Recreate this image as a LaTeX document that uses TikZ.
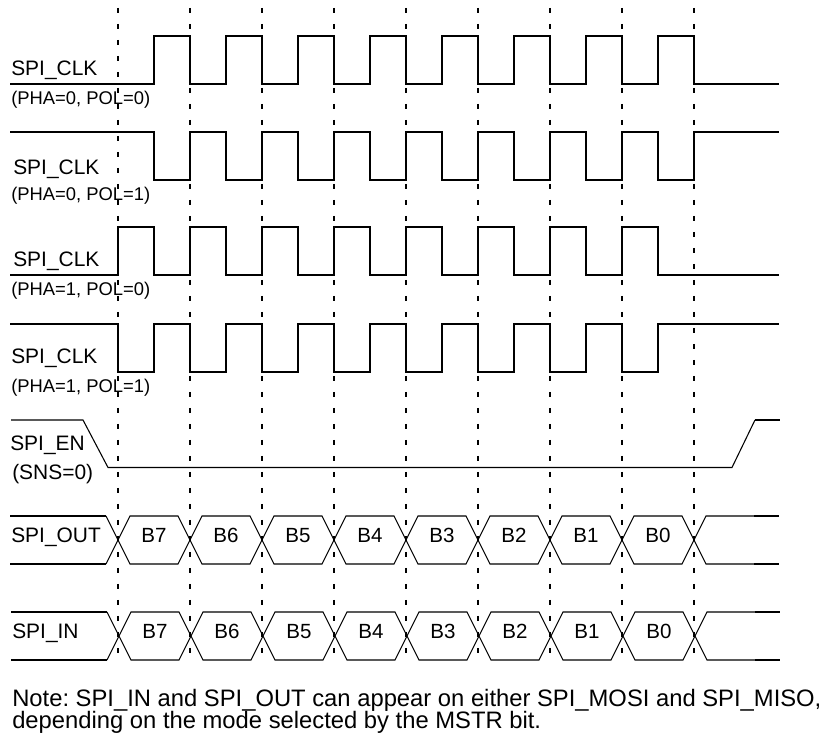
\documentclass[tikz,border=0pt]{standalone}
\usepackage{fontspec}
\setmainfont{Liberation Sans}

\begin{document}
\begin{tikzpicture}[x=0.75pt,y=-0.75pt,
  grid/.style={line width=1.5pt,dash pattern=on 3.4pt off 8.6pt},
  clk/.style={line width=1.3pt},
  wave/.style={line width=0.8pt},
  lead/.style={line width=1.3pt},
  big/.style={anchor=base west,inner sep=0pt,font=\fontsize{15.7pt}{18pt}\selectfont},
  small/.style={anchor=base west,inner sep=0pt,font=\fontsize{13.8pt}{16pt}\selectfont},
  bit/.style={anchor=base,inner sep=0pt,font=\fontsize{15.4pt}{18pt}\selectfont},
  note/.style={anchor=base west,inner sep=0pt,font=\frenchspacing\fontsize{17.84pt}{20pt}\selectfont}]
\path (0,0) rectangle (826,737);
\node[big] (clka) at (11,76) {SPI\_CLK};
\node[small] (moda) at (11,105) {(PHA=0, POL=0)};
\node[big] (clkb) at (13,175) {SPI\_CLK};
\node[small] (modb) at (11,201) {(PHA=0, POL=1)};
\node[big] (clkc) at (13,267) {SPI\_CLK};
\node[small] (modc) at (11,296) {(PHA=1, POL=0)};
\node[big] (clkd) at (11,364) {SPI\_CLK};
\node[small] (modd) at (11,393) {(PHA=1, POL=1)};
\node[big] (en) at (10,451) {SPI\_EN};
\node[big] (sns) at (12,480) {(SNS=0)};
\node[big] (out) at (11,543) {SPI\_OUT};
\node[big] (in) at (12,639) {SPI\_IN};
\node[bit] (outa) at (154,543) {B7};
\node[bit] (outb) at (226,543) {B6};
\node[bit] (outc) at (298,543) {B5};
\node[bit] (outd) at (370,543) {B4};
\node[bit] (oute) at (442,543) {B3};
\node[bit] (outf) at (514,543) {B2};
\node[bit] (outg) at (586,543) {B1};
\node[bit] (outh) at (658,543) {B0};
\node[bit] (ina) at (155,639) {B7};
\node[bit] (inb) at (227,639) {B6};
\node[bit] (inc) at (299,639) {B5};
\node[bit] (ind) at (371,639) {B4};
\node[bit] (ine) at (443,639) {B3};
\node[bit] (inf) at (515,639) {B2};
\node[bit] (ing) at (587,639) {B1};
\node[bit] (inh) at (659,639) {B0};
\node[note] (notea) at (12,707) {Note: SPI\_IN and SPI\_OUT can appear on either SPI\_MOSI and SPI\_MISO,};
\node[note] (noteb) at (12,729) {depending on the mode selected by the MSTR bit.};
% edges
\draw[grid] (118,8) -- (118,660);
\draw[grid] (190,8) -- (190,660);
\draw[grid] (262,8) -- (262,660);
\draw[grid] (334,8) -- (334,660);
\draw[grid] (406,8) -- (406,660);
\draw[grid] (478,8) -- (478,660);
\draw[grid] (550,8) -- (550,660);
\draw[grid] (622,8) -- (622,660);
\draw[grid] (694,8) -- (694,660);
% clocks
\draw[clk] (10,84) -| (154,36) -| (190,84) -| (226,36) -| (262,84) -| (298,36) -| (334,84) -| (370,36) -| (406,84) -| (442,36) -| (478,84) -| (514,36) -| (550,84) -| (586,36) -| (622,84) -| (658,36) -| (694,84) -- (779,84);
\draw[clk] (10,132) -| (154,180) -| (190,132) -| (226,180) -| (262,132) -| (298,180) -| (334,132) -| (370,180) -| (406,132) -| (442,180) -| (478,132) -| (514,180) -| (550,132) -| (586,180) -| (622,132) -| (658,180) -| (694,132) -- (779,132);
\draw[clk] (10,275) -| (118,227) -| (154,275) -| (190,227) -| (226,275) -| (262,227) -| (298,275) -| (334,227) -| (370,275) -| (406,227) -| (442,275) -| (478,227) -| (514,275) -| (550,227) -| (586,275) -| (622,227) -| (658,275) -- (779,275);
\draw[clk] (10,324) -| (118,372) -| (154,324) -| (190,372) -| (226,324) -| (262,372) -| (298,324) -| (334,372) -| (370,324) -| (406,372) -| (442,324) -| (478,372) -| (514,324) -| (550,372) -| (586,324) -| (622,372) -| (658,324) -- (779,324);
% enable
\draw[wave] (11,420) -- (83,420) -- (108,467.5) -- (732,467.5) -- (755,420);
\draw[lead] (755,420) -- (780,420);
% data out
\draw[lead] (10,516) -- (106,516);
\draw[lead] (10,564) -- (106,564);
\draw[wave] (106,516) -- (130,564) -- (178,564) -- (202,516) -- (250,516) -- (274,564) -- (322,564) -- (346,516) -- (394,516) -- (418,564) -- (466,564) -- (490,516) -- (538,516) -- (562,564) -- (610,564) -- (634,516) -- (682,516) -- (706,564) -- (754,564);
\draw[wave] (106,564) -- (130,516) -- (178,516) -- (202,564) -- (250,564) -- (274,516) -- (322,516) -- (346,564) -- (394,564) -- (418,516) -- (466,516) -- (490,564) -- (538,564) -- (562,516) -- (610,516) -- (634,564) -- (682,564) -- (706,516) -- (754,516);
\draw[lead] (754,516) -- (779,516);
\draw[lead] (754,564) -- (779,564);
% data in
\draw[lead] (11,612) -- (107,612);
\draw[lead] (11,660) -- (107,660);
\draw[wave] (107,612) -- (131,660) -- (179,660) -- (203,612) -- (251,612) -- (275,660) -- (323,660) -- (347,612) -- (395,612) -- (419,660) -- (467,660) -- (491,612) -- (539,612) -- (563,660) -- (611,660) -- (635,612) -- (683,612) -- (707,660) -- (755,660);
\draw[wave] (107,660) -- (131,612) -- (179,612) -- (203,660) -- (251,660) -- (275,612) -- (323,612) -- (347,660) -- (395,660) -- (419,612) -- (467,612) -- (491,660) -- (539,660) -- (563,612) -- (611,612) -- (635,660) -- (683,660) -- (707,612) -- (755,612);
\draw[lead] (755,612) -- (780,612);
\draw[lead] (755,660) -- (780,660);
\end{tikzpicture}
\end{document}
